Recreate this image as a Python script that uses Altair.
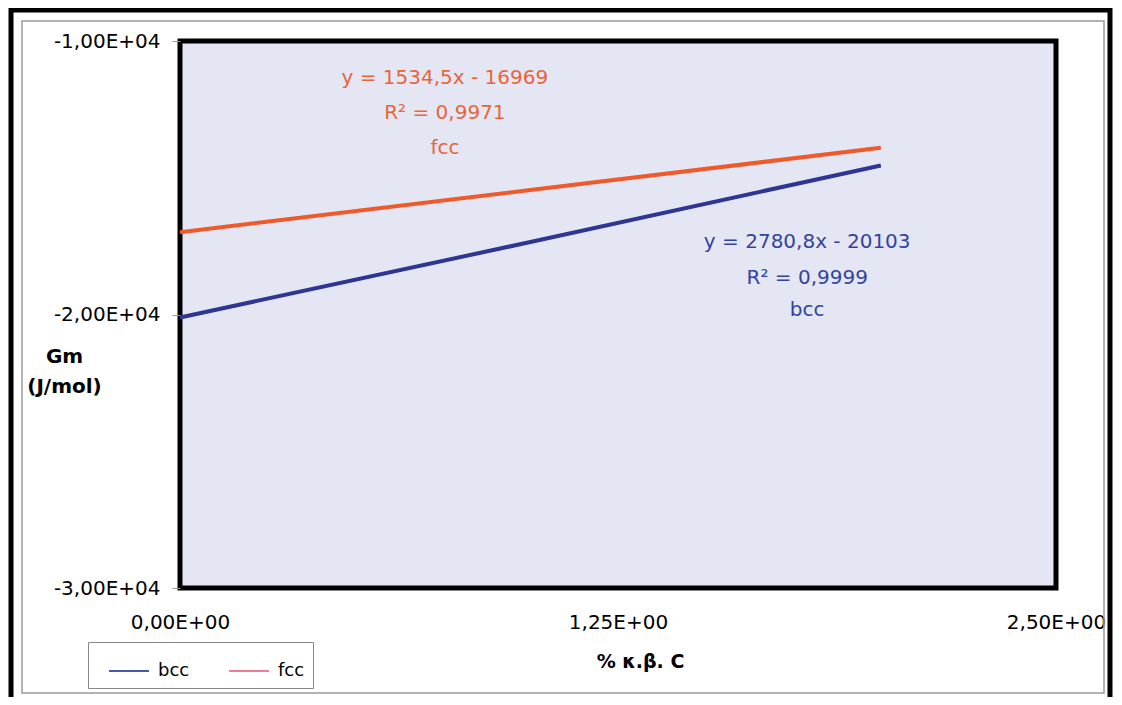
import altair as alt
import pandas as pd

# ---- data ----
x_pts = [0.0, 1.0, 2.0]
bcc_vals = [-20110, -17350, -14550]
fcc_vals = [-16990, -15450, -13905]

x_tick_values = [0, 1.25, 2.5]
x_tick_labels = ["0,00E+00", "1,25E+00", "2,50E+00"]
y_tick_values = [-10000, -20000, -30000]
y_tick_labels = ["-1,00E+04", "-2,00E+04", "-3,00E+04"]

fcc_notes = ["y = 1534,5x - 16969", "R\u00b2 = 0,9971", "fcc"]
fcc_note_x = [0.756, 0.756, 0.756]
fcc_note_y = [-11353, -12633, -13912]
bcc_notes = ["y = 2780,8x - 20103", "R\u00b2 = 0,9999", "bcc"]
bcc_note_x = [1.79, 1.79, 1.79]
bcc_note_y = [-17349, -18665, -19835]

series_names = ["bcc", "fcc"]
line_colors = ["#2E3592", "#EE5A2B"]
legend_colors = ["#4A58A8", "#F07C9C"]

rows = []
for xv, yv in zip(x_pts, bcc_vals):
    rows.append({"series": "bcc", "x": xv, "y": yv})
for xv, yv in zip(x_pts, fcc_vals):
    rows.append({"series": "fcc", "x": xv, "y": yv})
df = pd.DataFrame(rows)

fcc_df = pd.DataFrame({"t": fcc_notes, "x": fcc_note_x, "y": fcc_note_y})
bcc_df = pd.DataFrame({"t": bcc_notes, "x": bcc_note_x, "y": bcc_note_y})


def make_expr(vals, labs):
    expr = "''"
    for v, l in zip(reversed(vals), reversed(labs)):
        expr = f"datum.value == {v} ? '{l}' : ({expr})"
    return expr


FONT = "DejaVu Sans"

x_enc = alt.X(
    "x:Q",
    scale=alt.Scale(domain=[0, 2.5], nice=False, zero=False),
    axis=alt.Axis(
        values=x_tick_values,
        labelExpr=make_expr(x_tick_values, x_tick_labels),
        title="% \u03ba.\u03b2. C",
        titleFont=FONT,
        titleFontSize=19,
        titleFontWeight="bold",
        titlePadding=20,
        titleX=460,
        titleAlign="center",
        ticks=False,
        tickSize=0,
        labelPadding=24,
        domain=False,
        grid=False,
        labelFlush=False,
        labelOverlap=False,
    ),
)
y_enc = alt.Y(
    "y:Q",
    scale=alt.Scale(domain=[-30000, -10000], nice=False, zero=False),
    axis=alt.Axis(
        values=y_tick_values,
        labelExpr=make_expr(y_tick_values, y_tick_labels),
        title=["Gm", "(J/mol)"],
        titleFont=FONT,
        titleFontSize=20,
        titleFontWeight="bold",
        titleAngle=0,
        titleAlign="center",
        titleBaseline="top",
        titleX=-116,
        titleY=305,
        titleLineHeight=30,
        ticks=True,
        tickSize=8,
        tickColor="#999999",
        tickWidth=1,
        labelPadding=12,
        domain=False,
        grid=False,
    ),
)

frame_data = alt.Data(values=[{"k": 1}])
outer = alt.Chart(frame_data).mark_rect(filled=False, stroke="black", strokeWidth=5).encode(
    x=alt.value(-169), x2=alt.value(930), y=alt.value(-31), y2=alt.value(700)
)
inner = alt.Chart(frame_data).mark_rect(filled=False, stroke="#9a9a9a", strokeWidth=1.5).encode(
    x=alt.value(-158), x2=alt.value(924), y=alt.value(-20), y2=alt.value(652)
)

legend_layer = alt.Chart(df).mark_line(strokeWidth=1).encode(
    x=x_enc,
    y=y_enc,
    color=alt.Color(
        "series:N",
        scale=alt.Scale(domain=series_names, range=legend_colors),
        legend=alt.Legend(
            orient="none",
            legendX=-92,
            legendY=601,
            direction="horizontal",
            title=None,
            symbolType="stroke",
            symbolSize=1600,
            symbolStrokeWidth=2,
            labelFont=FONT,
            labelFontSize=18,
            labelColor="black",
            labelOffset=8,
            padding=8,
            columnPadding=26,
            symbolOffset=12,
            strokeColor="#888888",
            fillColor="white",
            cornerRadius=0,
        ),
    ),
)

lines = alt.Chart(df).mark_line(strokeWidth=4, strokeCap="butt").encode(
    x=x_enc,
    y=y_enc,
    color=alt.Color(
        "series:N",
        scale=alt.Scale(domain=series_names, range=line_colors),
        legend=None,
    ),
)

fcc_text = alt.Chart(fcc_df).mark_text(
    font=FONT, fontSize=20, color="#E8653A", align="center", baseline="middle"
).encode(x="x:Q", y="y:Q", text="t:N")
bcc_text = alt.Chart(bcc_df).mark_text(
    font=FONT, fontSize=20, color="#3343A0", align="center", baseline="middle"
).encode(x="x:Q", y="y:Q", text="t:N")

chart = (
    alt.layer(outer, inner, legend_layer, lines, fcc_text, bcc_text)
    .resolve_scale(color="independent")
    .properties(
        width=876,
        height=547,
        autosize=alt.AutoSizeParams(type="none"),
        padding={"left": 172, "top": 33, "right": 58, "bottom": 109},
        background="white",
    )
    .configure_view(stroke="black", strokeWidth=5, fill="#E4E6F3")
    .configure_axis(labelFont=FONT, labelFontSize=20, labelColor="black", titleColor="black")
)

chart.save("out.html", embed_options={"renderer": "svg", "actions": False})
